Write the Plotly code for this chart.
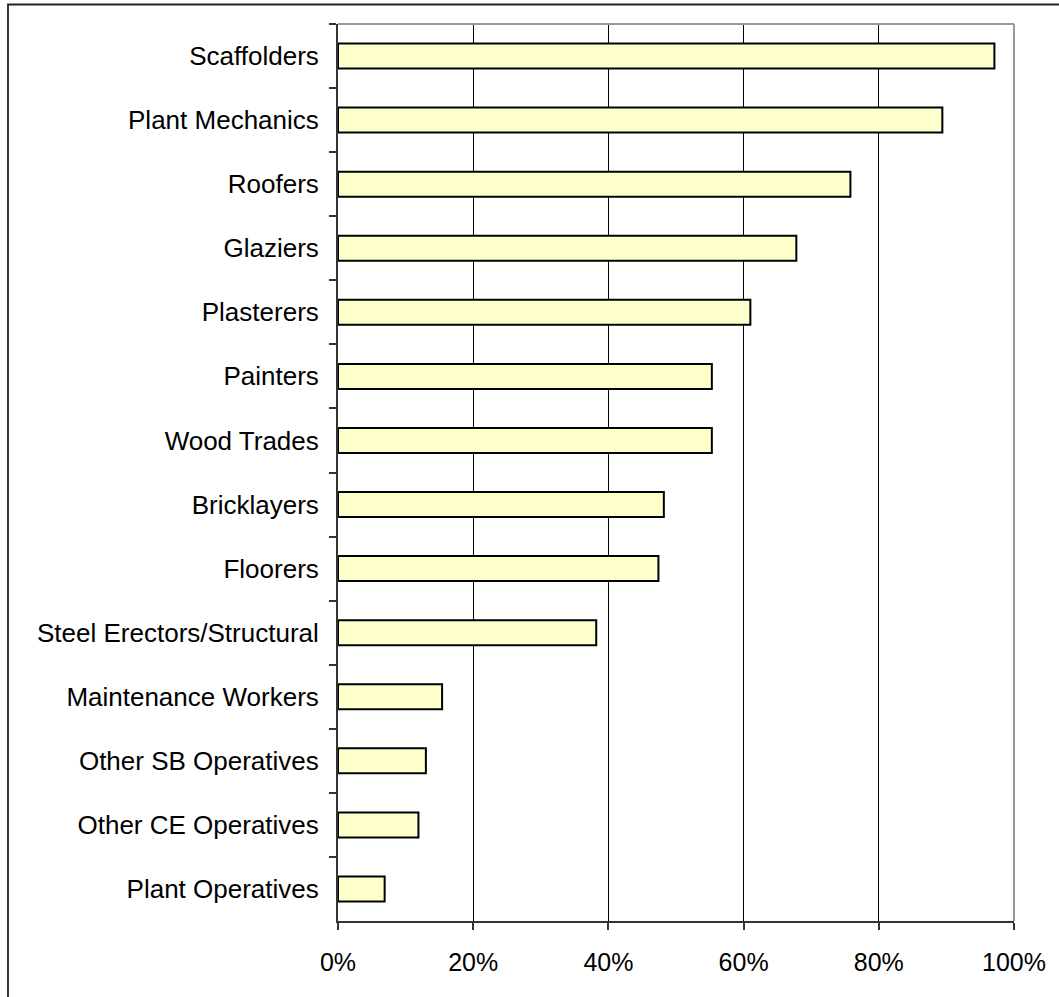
import plotly.graph_objects as go

categories = ["Scaffolders", "Plant Mechanics", "Roofers", "Glaziers", "Plasterers",
              "Painters", "Wood Trades", "Bricklayers", "Floorers",
              "Steel Erectors/Structural", "Maintenance Workers",
              "Other SB Operatives", "Other CE Operatives", "Plant Operatives"]
values = [97.1, 89.4, 75.8, 67.8, 61.0, 55.3, 55.3, 48.2, 47.4, 38.2, 15.4, 13.0, 11.9, 6.9]
x_ticks = [0, 20, 40, 60, 80, 100]
x_tick_labels = ["0%", "20%", "40%", "60%", "80%", "100%"]

W, H = 1059, 997
ML, MR, MT, MB = 338, 45, 24, 76
pw = W - ML - MR
ph = H - MT - MB

fig = go.Figure(go.Bar(
    x=values, y=categories, orientation="h",
    width=0.39,
    marker=dict(color="#FFFFCC", line=dict(color="black", width=2)),
    hoverinfo="x+y",
))

def px2paper_x(p):
    return (p - ML) / pw

def px2paper_y(p):
    return (H - MB - p) / ph

shapes = [
    # outer chart border (cut off at right and bottom)
    dict(type="rect", xref="paper", yref="paper",
         x0=px2paper_x(8), x1=px2paper_x(1075), y0=px2paper_y(1015), y1=px2paper_y(4.5),
         line=dict(color="#222222", width=1.8), fillcolor="rgba(0,0,0,0)", layer="below"),
    # plot area top & right borders (grey)
    dict(type="line", xref="paper", yref="paper", x0=0, x1=1, y0=1, y1=1,
         line=dict(color="#999999", width=2), layer="above"),
    dict(type="line", xref="paper", yref="paper", x0=1, x1=1, y0=0, y1=1,
         line=dict(color="#999999", width=2), layer="above"),
]

fig.update_layout(
    width=W, height=H,
    margin=dict(l=ML, r=MR, t=MT, b=MB, pad=0),
    paper_bgcolor="white", plot_bgcolor="white",
    font=dict(family="Liberation Sans, Arial, sans-serif", size=25, color="black"),
    showlegend=False,
    shapes=shapes,
    xaxis=dict(
        range=[0, 100], tickvals=x_ticks, ticktext=x_tick_labels,
        showgrid=True, gridcolor="black", gridwidth=1,
        showline=True, linecolor="#333333", linewidth=2,
        ticks="outside", ticklen=7, tickcolor="#333333", tickwidth=2,
        ticklabelstandoff=11, zeroline=False, fixedrange=True,
        tickfont=dict(size=25),
    ),
    yaxis=dict(
        categoryorder="array", categoryarray=categories, autorange="reversed",
        showgrid=False, showline=True, linecolor="#333333", linewidth=2,
        ticks="outside", ticklen=7, tickcolor="#333333", tickwidth=2,
        tickson="boundaries", ticklabelstandoff=12, fixedrange=True,
        tickfont=dict(size=26),
    ),
)

fig.write_html(
    "out.html",
    config={"displayModeBar": False},
    post_script="document.body.style.margin='0';document.body.style.overflow='hidden';",
)
